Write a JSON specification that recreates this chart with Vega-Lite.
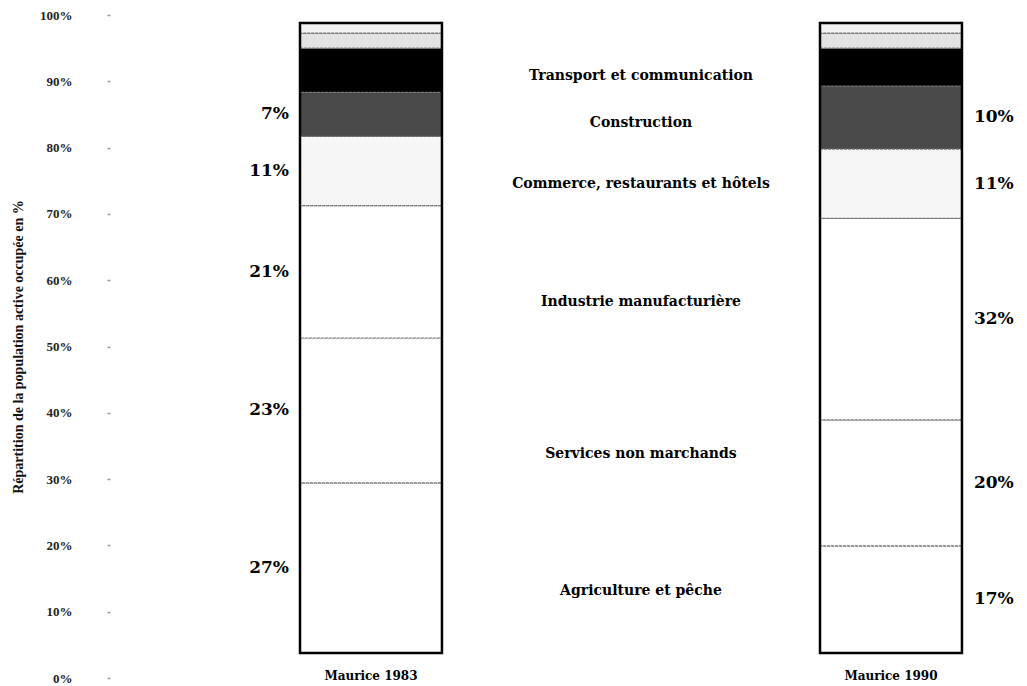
{
  "$schema": "https://vega.github.io/schema/vega-lite/v6.json",
  "autosize": {"type": "none"},
  "padding": {"left": 110, "top": 15, "right": 7, "bottom": 8},
  "width": 910,
  "height": 663,
  "background": "white",
  "config": {"view": {"stroke": null}, "font": "DejaVu Serif"},
  "data": {
    "values": [
      {"annee": "Maurice 1983", "secteur": "Agriculture et pêche", "ordre": 1, "value": 27},
      {"annee": "Maurice 1983", "secteur": "Services non marchands", "ordre": 2, "value": 23},
      {"annee": "Maurice 1983", "secteur": "Industrie manufacturière", "ordre": 3, "value": 21},
      {"annee": "Maurice 1983", "secteur": "Commerce, restaurants et hôtels", "ordre": 4, "value": 11},
      {"annee": "Maurice 1983", "secteur": "Construction", "ordre": 5, "value": 7},
      {"annee": "Maurice 1983", "secteur": "Transport et communication", "ordre": 6, "value": 7},
      {"annee": "Maurice 1983", "secteur": "Autres A", "ordre": 7, "value": 2.4},
      {"annee": "Maurice 1983", "secteur": "Autres B", "ordre": 8, "value": 1.6},
      {"annee": "Maurice 1990", "secteur": "Agriculture et pêche", "ordre": 1, "value": 17},
      {"annee": "Maurice 1990", "secteur": "Services non marchands", "ordre": 2, "value": 20},
      {"annee": "Maurice 1990", "secteur": "Industrie manufacturière", "ordre": 3, "value": 32},
      {"annee": "Maurice 1990", "secteur": "Commerce, restaurants et hôtels", "ordre": 4, "value": 11},
      {"annee": "Maurice 1990", "secteur": "Construction", "ordre": 5, "value": 10},
      {"annee": "Maurice 1990", "secteur": "Transport et communication", "ordre": 6, "value": 6},
      {"annee": "Maurice 1990", "secteur": "Autres A", "ordre": 7, "value": 2.4},
      {"annee": "Maurice 1990", "secteur": "Autres B", "ordre": 8, "value": 1.6}
    ]
  },
  "layer": [
    {
      "mark": {"type": "point", "opacity": 0},
      "encoding": {
        "y": {
          "field": "value",
          "type": "quantitative",
          "scale": {"domain": [0, 100], "nice": false, "zero": false},
          "axis": {
            "title": "Répartition de la population active occupée en %",
            "titleFont": "Liberation Serif",
            "titleFontSize": 14,
            "titleFontWeight": "bold",
            "titleColor": "#111",
            "titlePadding": 14,
            "values": [0, 10, 20, 30, 40, 50, 60, 70, 80, 90, 100],
            "labelExpr": "datum.value + '%'",
            "labelFont": "Liberation Serif",
            "labelFontSize": 13,
            "labelFontWeight": "bold",
            "labelColor": "#222",
            "labelPadding": 35,
            "domain": false,
            "grid": false,
            "tickSize": 3,
            "tickColor": "#999",
            "tickWidth": 1.5
          }
        }
      }
    },
    {
      "layer": [
        {
          "mark": {"type": "bar", "stroke": "#777", "strokeWidth": 1.2, "strokeDash": [3, 1]},
          "encoding": {
            "x": {
              "field": "annee",
              "type": "nominal",
              "scale": {"domain": ["Maurice 1983", "mid", "Maurice 1990"], "paddingInner": 0.454, "paddingOuter": 0.477, "align": 0.766},
              "axis": {
                "title": null,
                "labelExpr": "datum.label == 'mid' ? '' : datum.label",
                "labelAngle": 0,
                "domain": false,
                "ticks": false,
                "offset": -10,
                "labelPadding": 2,
                "labelFont": "DejaVu Serif",
                "labelFontWeight": "bold",
                "labelFontSize": 12,
                "labelColor": "black"
              }
            },
            "y": {
              "field": "value",
              "type": "quantitative",
              "stack": "zero",
              "scale": {"domain": [-3.97, 101.27], "nice": false, "zero": false},
              "axis": null
            },
            "order": {"field": "ordre", "sort": "ascending"},
            "color": {
              "field": "secteur",
              "type": "nominal",
              "legend": null,
              "scale": {
                "domain": ["Agriculture et pêche", "Services non marchands", "Industrie manufacturière", "Commerce, restaurants et hôtels", "Construction", "Transport et communication", "Autres A", "Autres B"],
                "range": ["#ffffff", "#ffffff", "#ffffff", "#f6f6f6", "#4a4a4a", "#000000", "#e2e2e2", "#f2f2f2"]
              }
            }
          }
        },
        {
          "mark": {"type": "bar", "fillOpacity": 0, "stroke": "black", "strokeWidth": 2.5},
          "encoding": {
            "x": {"field": "annee", "type": "nominal"},
            "y": {"aggregate": "sum", "field": "value", "type": "quantitative", "scale": {"domain": [-3.97, 101.27], "nice": false, "zero": false}, "axis": null}
          }
        },
        {
          "transform": [
            {"filter": {"field": "annee", "equal": "Maurice 1983"}},
            {"stack": "value", "groupby": ["annee"], "sort": [{"field": "ordre", "order": "ascending"}], "as": ["y0", "y1"]},
            {"filter": {"field": "secteur", "oneOf": ["Agriculture et pêche", "Services non marchands", "Industrie manufacturière", "Commerce, restaurants et hôtels", "Construction"]}},
            {"calculate": "(datum.y0 + datum.y1) / 2", "as": "ymid"},
            {"calculate": "datum.value + '%'", "as": "etiquette"}
          ],
          "mark": {"type": "text", "align": "right", "baseline": "middle", "dx": -11, "fontSize": 17, "fontWeight": "bold", "font": "DejaVu Serif", "color": "black"},
          "encoding": {
            "x": {"field": "annee", "type": "nominal", "bandPosition": 0},
            "y": {"field": "ymid", "type": "quantitative", "scale": {"domain": [-3.97, 101.27], "nice": false, "zero": false}, "axis": null},
            "text": {"field": "etiquette"}
          }
        },
        {
          "transform": [
            {"filter": {"field": "annee", "equal": "Maurice 1990"}},
            {"stack": "value", "groupby": ["annee"], "sort": [{"field": "ordre", "order": "ascending"}], "as": ["y0", "y1"]},
            {"filter": {"field": "secteur", "oneOf": ["Agriculture et pêche", "Services non marchands", "Industrie manufacturière", "Commerce, restaurants et hôtels", "Construction"]}},
            {"calculate": "(datum.y0 + datum.y1) / 2", "as": "ymid"},
            {"calculate": "datum.value + '%'", "as": "etiquette"}
          ],
          "mark": {"type": "text", "align": "left", "baseline": "middle", "dx": 12, "fontSize": 17, "fontWeight": "bold", "font": "DejaVu Serif", "color": "black"},
          "encoding": {
            "x": {"field": "annee", "type": "nominal", "bandPosition": 1},
            "y": {"field": "ymid", "type": "quantitative", "scale": {"domain": [-3.97, 101.27], "nice": false, "zero": false}, "axis": null},
            "text": {"field": "etiquette"}
          }
        },
        {
          "transform": [
            {"stack": "value", "groupby": ["annee"], "sort": [{"field": "ordre", "order": "ascending"}], "as": ["y0", "y1"]},
            {"filter": {"field": "ordre", "lte": 6}},
            {"calculate": "(datum.y0 + datum.y1) / 2", "as": "mid"},
            {"aggregate": [{"op": "mean", "field": "mid", "as": "ymid"}], "groupby": ["secteur"]}
          ],
          "mark": {"type": "text", "align": "center", "baseline": "middle", "dx": 10, "dy": 7, "fontSize": 14, "fontWeight": "bold", "font": "DejaVu Serif", "color": "black"},
          "encoding": {
            "x": {"datum": "mid", "type": "nominal"},
            "y": {"field": "ymid", "type": "quantitative", "scale": {"domain": [-3.97, 101.27], "nice": false, "zero": false}, "axis": null},
            "text": {"field": "secteur"}
          }
        }
      ]
    }
  ],
  "resolve": {"scale": {"y": "independent"}, "axis": {"y": "independent"}}
}
